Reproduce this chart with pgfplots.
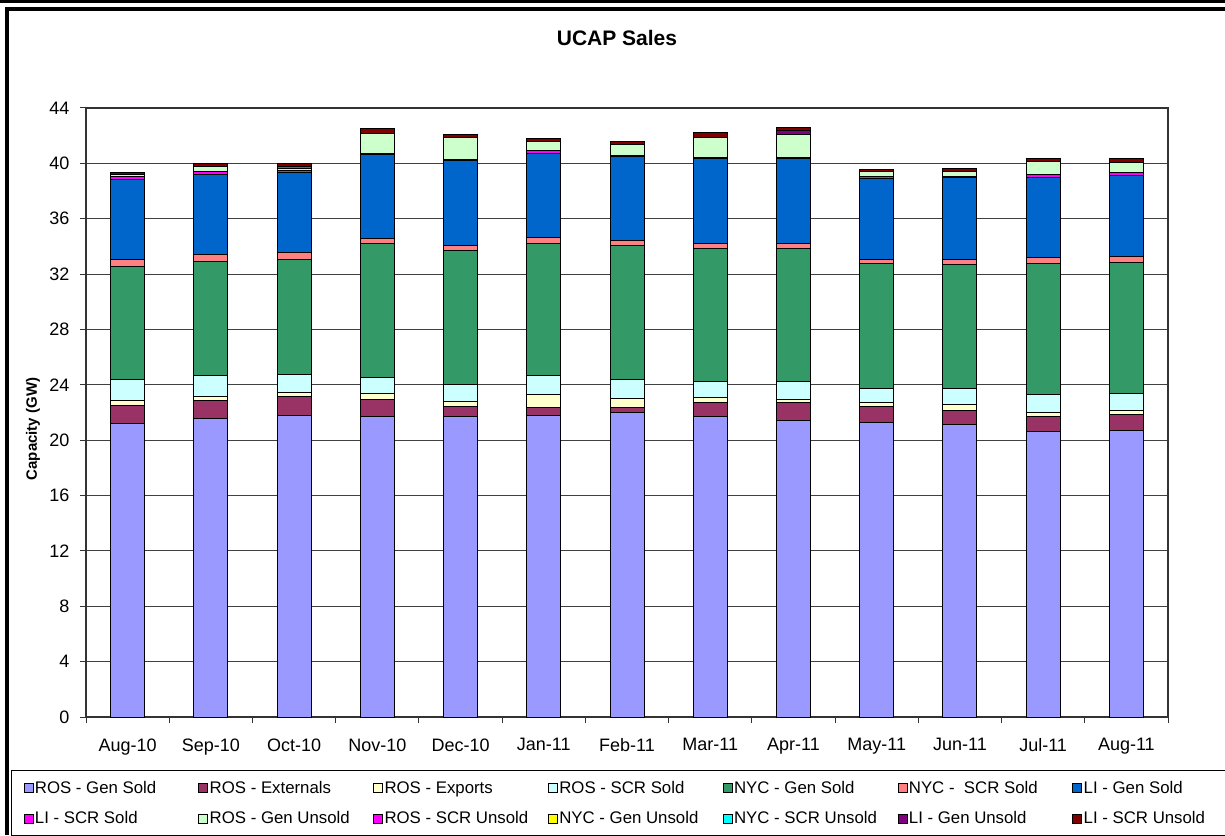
\documentclass[border=0pt]{standalone}
\usepackage{pgfplots}
\pgfplotsset{compat=1.18}
\usepackage{pgfplotstable}
\usepackage{fontspec}
\setmainfont{Liberation Sans}
\definecolor{cA}{HTML}{9999FF}
\definecolor{cB}{HTML}{993366}
\definecolor{cC}{HTML}{FFFFCC}
\definecolor{cD}{HTML}{CCFFFF}
\definecolor{cE}{HTML}{339966}
\definecolor{cF}{HTML}{FF8080}
\definecolor{cG}{HTML}{0066CC}
\definecolor{cH}{HTML}{FF00FF}
\definecolor{cI}{HTML}{CCFFCC}
\definecolor{cJ}{HTML}{FF00FF}
\definecolor{cK}{HTML}{FFFF00}
\definecolor{cL}{HTML}{00FFFF}
\definecolor{cM}{HTML}{800080}
\definecolor{cN}{HTML}{800000}
\pgfplotstableread{
x G E X S NG NS LG LS RGU RSU NGU NSU LGU LSU
0 21.17 1.37 0.32 1.49 8.19 0.53 5.78 0.17 0.21 0 0 0 0 0.12
1 21.58 1.28 0.29 1.51 8.26 0.53 5.78 0.19 0.36 0 0 0 0 0.22
2 21.77 1.38 0.31 1.27 8.34 0.48 5.78 0.12 0.15 0.18 0 0 0 0.22
3 21.68 1.27 0.41 1.18 9.64 0.38 6.05 0.09 1.45 0 0 0 0 0.34
4 21.68 0.78 0.31 1.28 9.62 0.39 6.16 0.08 1.54 0 0 0 0 0.24
5 21.77 0.61 0.89 1.39 9.56 0.41 6.05 0.22 0.67 0 0 0 0 0.22
6 21.99 0.39 0.60 1.37 9.68 0.41 6.05 0.09 0.78 0 0 0 0 0.22
7 21.70 0.99 0.38 1.18 9.59 0.38 6.14 0.09 1.41 0 0 0 0 0.34
8 21.41 1.30 0.24 1.30 9.59 0.38 6.14 0.09 1.67 0 0 0 0.24 0.22
9 21.31 1.09 0.31 1.03 9.04 0.31 5.85 0.09 0.37 0 0 0 0 0.15
10 21.10 1.08 0.39 1.17 8.92 0.41 5.90 0.09 0.34 0 0 0 0 0.24
11 20.61 1.09 0.31 1.30 9.47 0.41 5.80 0.22 0.96 0 0 0 0 0.17
12 20.71 1.11 0.36 1.20 9.47 0.43 5.83 0.24 0.72 0 0 0 0 0.27
}\ucap
\newcommand{\lgd}[1]{\makebox[162pt][l]{#1}}
\begin{document}
\begin{tikzpicture}[x=1pt,y=1pt]
\fill[white] (0,0) rectangle (1225,835);
\useasboundingbox (0,0) rectangle (1225,835);
\fill[black] (0,832) rectangle (1225,835);
\fill[black] (5,0) rectangle (9,828);
\fill[black] (5,824) rectangle (1225,828);
\node[font=\fontsize{21}{25}\selectfont\bfseries] at (617,797) {UCAP Sales};
\node[font=\fontsize{15}{18}\selectfont\bfseries, rotate=90] at (33,406) {Capacity (GW)};
\begin{axis}[
  at={(86pt,118pt)}, anchor=south west, scale only axis,
  width=1082pt, height=609pt,
  ybar stacked, bar width=34pt,
  xmin=-0.5, xmax=12.5, ymin=0, ymax=44,
  ytick={0,4,...,44},
  xtick={-0.5,0.5,...,12.5},
  x tick label as interval,
  xticklabels={Aug-10,Sep-10,Oct-10,Nov-10,Dec-10,Jan-11,Feb-11,Mar-11,Apr-11,May-11,Jun-11,Jul-11,Aug-11},
  xtick pos=bottom, ytick pos=left,
  tick align=outside,
  major tick length=6pt,
  tick style={black!80, line width=1pt},
  ymajorgrids, grid style={black!75, line width=1.1pt},
  axis line style={black!80, line width=1.4pt},
  ticklabel style={font=\fontsize{18}{21}\selectfont},
  /pgf/number format/assume math mode=true,
  xticklabel style={yshift=-12pt},
  yticklabel style={xshift=-7pt},
  every axis plot/.append style={draw=black, line width=1pt},
  legend columns=7,
  legend image code/.code={\draw[#1,draw=black,line width=0.8pt] (0pt,-4.5pt) rectangle (9pt,4.5pt);},
  legend style={at={(-0.0693,-0.087)}, anchor=north west, draw=black, line width=1.2pt,
    font=\fontsize{16.8}{19}\selectfont, nodes={inner sep=1.5pt},
    inner xsep=12pt, inner ysep=9pt, row sep=14pt},
]
\addplot[fill=cA] table[x=x,y=G]{\ucap};
\addplot[fill=cB] table[x=x,y=E]{\ucap};
\addplot[fill=cC] table[x=x,y=X]{\ucap};
\addplot[fill=cD] table[x=x,y=S]{\ucap};
\addplot[fill=cE] table[x=x,y=NG]{\ucap};
\addplot[fill=cF] table[x=x,y=NS]{\ucap};
\addplot[fill=cG] table[x=x,y=LG]{\ucap};
\addplot[fill=cH] table[x=x,y=LS]{\ucap};
\addplot[fill=cI] table[x=x,y=RGU]{\ucap};
\addplot[fill=cJ] table[x=x,y=RSU]{\ucap};
\addplot[fill=cK] table[x=x,y=NGU]{\ucap};
\addplot[fill=cL] table[x=x,y=NSU]{\ucap};
\addplot[fill=cM] table[x=x,y=LGU]{\ucap};
\addplot[fill=cN] table[x=x,y=LSU]{\ucap};
\addlegendentry{\lgd{ROS - Gen Sold}}
\addlegendentry{\lgd{ROS - Externals}}
\addlegendentry{\lgd{ROS - Exports}}
\addlegendentry{\lgd{ROS - SCR Sold}}
\addlegendentry{\lgd{NYC - Gen Sold}}
\addlegendentry{\lgd{NYC -\ \ SCR Sold}}
\addlegendentry{\lgd{LI - Gen Sold}}
\addlegendentry{\lgd{LI - SCR Sold}}
\addlegendentry{\lgd{ROS - Gen Unsold}}
\addlegendentry{\lgd{ROS - SCR Unsold}}
\addlegendentry{\lgd{NYC - Gen Unsold}}
\addlegendentry{\lgd{NYC - SCR Unsold}}
\addlegendentry{\lgd{LI - Gen Unsold}}
\addlegendentry{\lgd{LI - SCR Unsold}}
\end{axis}
\end{tikzpicture}
\end{document}
